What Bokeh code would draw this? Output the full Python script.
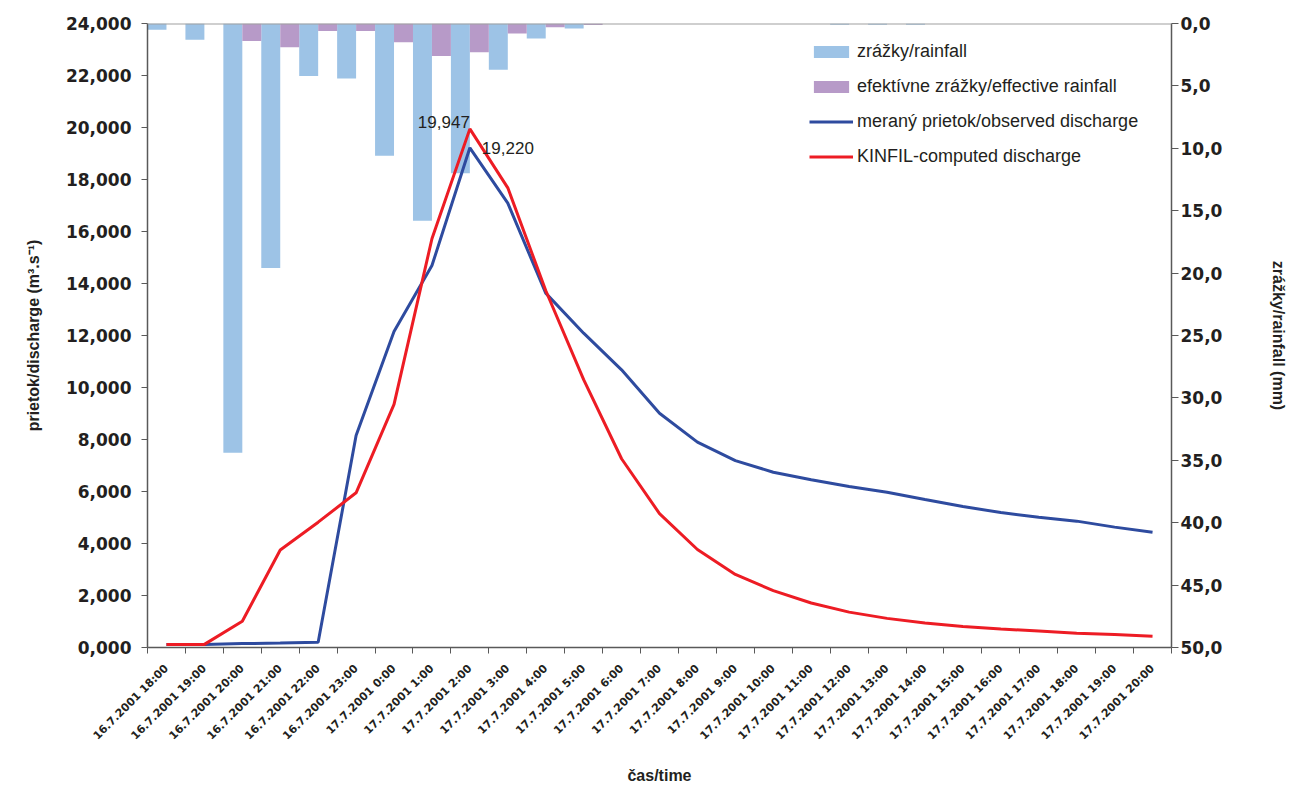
import math
import numpy as np
from bokeh.plotting import figure
from bokeh.models import Range1d, LinearAxis, FixedTicker, Legend, LegendItem, Span
from bokeh.core.properties import value
from bokeh.embed import file_html
from bokeh.resources import INLINE

# ---------------- data ----------------
times = ["16.7.2001 18:00", "16.7.2001 19:00", "16.7.2001 20:00", "16.7.2001 21:00",
         "16.7.2001 22:00", "16.7.2001 23:00", "17.7.2001 0:00", "17.7.2001 1:00",
         "17.7.2001 2:00", "17.7.2001 3:00", "17.7.2001 4:00", "17.7.2001 5:00",
         "17.7.2001 6:00", "17.7.2001 7:00", "17.7.2001 8:00", "17.7.2001 9:00",
         "17.7.2001 10:00", "17.7.2001 11:00", "17.7.2001 12:00", "17.7.2001 13:00",
         "17.7.2001 14:00", "17.7.2001 15:00", "17.7.2001 16:00", "17.7.2001 17:00",
         "17.7.2001 18:00", "17.7.2001 19:00", "17.7.2001 20:00"]

rainfall = [0.5, 1.3, 34.4, 19.6, 4.2, 4.4, 10.6, 15.8, 12.0, 3.7, 1.2, 0.4,
            0.0, 0.0, 0.0, 0.0, 0.0, 0.0, 0.1, 0.1, 0.1, 0.0, 0.0, 0.0, 0.0, 0.0, 0.0]
effective = [0.0, 0.0, 1.4, 1.9, 0.6, 0.6, 1.5, 2.6, 2.3, 0.8, 0.3, 0.13,
             0.0, 0.0, 0.0, 0.0, 0.0, 0.0, 0.0, 0.0, 0.0, 0.0, 0.0, 0.0, 0.0, 0.0, 0.0]
observed = [0.12, 0.12, 0.15, 0.17, 0.20, 8.15, 12.15, 14.69, 19.22, 17.09, 13.63, 12.09,
            10.68, 9.01, 7.90, 7.19, 6.74, 6.45, 6.19, 5.97, 5.69, 5.42, 5.19, 5.01,
            4.86, 4.63, 4.43]
computed = [0.12, 0.12, 1.01, 3.75, 4.82, 5.95, 9.35, 15.72, 19.947, 17.68, 13.73, 10.30,
            7.26, 5.15, 3.77, 2.81, 2.19, 1.71, 1.36, 1.12, 0.94, 0.81, 0.71, 0.63,
            0.55, 0.50, 0.43]

left_ticks = [0, 2, 4, 6, 8, 10, 12, 14, 16, 18, 20, 22, 24]
left_labels = ["0,000", "2,000", "4,000", "6,000", "8,000", "10,000", "12,000",
               "14,000", "16,000", "18,000", "20,000", "22,000", "24,000"]
right_ticks = [0, 5, 10, 15, 20, 25, 30, 35, 40, 45, 50]
right_labels = ["0,0", "5,0", "10,0", "15,0", "20,0", "25,0", "30,0", "35,0",
                "40,0", "45,0", "50,0"]

legend_labels = ["zrážky/rainfall", "efektívne zrážky/effective rainfall",
                 "meraný prietok/observed discharge", "KINFIL-computed discharge"]

C_RAIN = "#9DC3E6"
C_EFF = "#B79AC8"
C_OBS = "#2E4B9F"
C_COMP = "#ED1C24"
AX = "#595959"
TXT = "#231F20"

n = len(times)
idx = np.arange(n)
centers = idx + 0.5
boundaries = list(np.arange(n + 1).astype(float))

p = figure(width=1290, height=787, output_backend="svg", toolbar_location=None,
           x_range=Range1d(0, n), y_range=Range1d(0, 24),
           min_border_left=147, min_border_right=118, min_border_top=23,
           min_border_bottom=140)
p.extra_y_ranges = {"rain": Range1d(50, 0)}
p.outline_line_color = None
p.xgrid.grid_line_color = None
p.ygrid.grid_line_color = None
p.background_fill_color = "white"

# bars (hanging from top on reversed right axis)
r_rain = p.vbar(x=idx + 0.25, top=rainfall, bottom=0, width=0.5, y_range_name="rain",
                fill_color=C_RAIN, line_color=None)
r_eff = p.vbar(x=idx + 0.75, top=effective, bottom=0, width=0.5, y_range_name="rain",
               fill_color=C_EFF, line_color=None)

p.add_layout(Span(location=0, dimension="width", y_range_name="rain",
                  line_color="#A0A0A0", line_width=2))

r_obs = p.line(centers, observed, line_color=C_OBS, line_width=3)
r_comp = p.line(centers, computed, line_color=C_COMP, line_width=3)

# peak labels
ic = int(np.argmax(computed))
io = int(np.argmax(observed))
p.text(x=[centers[ic]], y=[computed[ic]],
       text=[f"{computed[ic]:.3f}".replace(".", ",")],
       text_align="right", text_baseline="bottom", y_offset=-1,
       text_font=value("Liberation Sans"), text_font_size="17px", text_color=TXT)
p.text(x=[centers[io]], y=[observed[io]],
       text=[f"{observed[io]:.3f}".replace(".", ",")],
       text_align="left", text_baseline="middle", x_offset=12,
       text_font=value("Liberation Sans"), text_font_size="17px", text_color=TXT)

# left axis
ya = p.yaxis[0]
ya.ticker = FixedTicker(ticks=left_ticks)
ya.major_label_overrides = {t: s for t, s in zip(left_ticks, left_labels)}
ya.major_label_text_font = "DejaVu Sans"
ya.major_label_text_font_style = "bold"
ya.major_label_text_font_size = "17px"
ya.major_label_text_color = TXT
ya.major_label_standoff = 10
ya.major_tick_out = 6
ya.major_tick_in = 0
ya.minor_tick_line_color = None
ya.major_tick_line_color = AX
ya.axis_line_color = AX
ya.axis_line_width = 1.5
ya.axis_label = "prietok/discharge (m³.s⁻¹)"
ya.axis_label_text_font = "Liberation Sans"
ya.axis_label_text_font_style = "bold"
ya.axis_label_text_font_size = "16px"
ya.axis_label_text_color = TXT
ya.axis_label_standoff = 21

# x axis
xa = p.xaxis[0]
xa.ticker = FixedTicker(ticks=list(centers), minor_ticks=boundaries)
xa.major_label_overrides = {float(c): t for c, t in zip(centers, times)}
xa.major_label_orientation = math.pi / 4
xa.major_label_text_font = "DejaVu Sans"
xa.major_label_text_font_style = "bold"
xa.major_label_text_font_size = "11px"
xa.major_label_text_color = TXT
xa.major_label_standoff = 13
xa.major_tick_out = 0
xa.major_tick_in = 0
xa.minor_tick_out = 6
xa.minor_tick_in = 0
xa.minor_tick_line_color = AX
xa.axis_line_color = AX
xa.axis_line_width = 1.5
xa.axis_label = "čas/time"
xa.axis_label_text_font = "Liberation Sans"
xa.axis_label_text_font_style = "bold"
xa.axis_label_text_font_size = "16px"
xa.axis_label_text_color = TXT
xa.axis_label_standoff = 17

# right axis
ra = LinearAxis(y_range_name="rain", ticker=FixedTicker(ticks=right_ticks))
ra.major_label_overrides = {t: s for t, s in zip(right_ticks, right_labels)}
ra.major_label_text_font = "DejaVu Sans"
ra.major_label_text_font_style = "bold"
ra.major_label_text_font_size = "17px"
ra.major_label_text_color = TXT
ra.major_label_standoff = 2
ra.major_tick_out = 7
ra.major_tick_in = 0
ra.minor_tick_line_color = None
ra.major_tick_line_color = AX
ra.axis_line_color = AX
ra.axis_line_width = 1.5
ra.axis_label = "zrážky/rainfall (mm)"
ra.axis_label_text_font = "Liberation Sans"
ra.axis_label_text_font_style = "bold"
ra.axis_label_text_font_size = "16px"
ra.axis_label_text_color = TXT
ra.axis_label_standoff = 45
p.add_layout(ra, "right")

legend = Legend(items=[LegendItem(label=legend_labels[0], renderers=[r_rain]),
                       LegendItem(label=legend_labels[1], renderers=[r_eff]),
                       LegendItem(label=legend_labels[2], renderers=[r_obs]),
                       LegendItem(label=legend_labels[3], renderers=[r_comp])],
                location=(662, 480), margin=0, padding=0,
                border_line_color=None, background_fill_alpha=0,
                glyph_width=44, glyph_height=15, label_height=22, spacing=13,
                label_standoff=4, label_text_font="Liberation Sans",
                label_text_font_size="18px", label_text_color=TXT)
p.add_layout(legend)

open("out.html", "w").write(file_html(p, INLINE))
